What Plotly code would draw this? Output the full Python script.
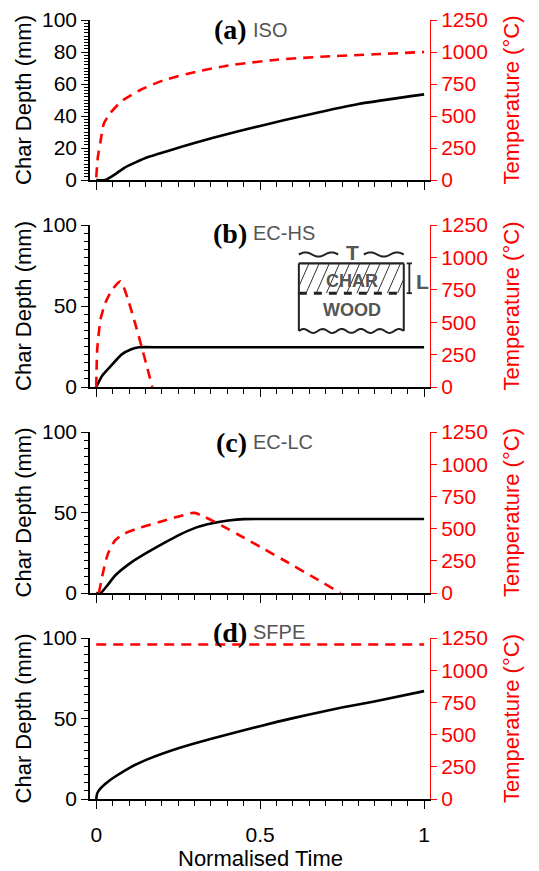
import numpy as np
import plotly.graph_objects as go
from plotly.subplots import make_subplots

# ---------------- data ----------------
iso_t_time = [0, 0.005, 0.013, 0.023, 0.042, 0.077, 0.136, 0.206, 0.304, 0.403, 0.551, 0.70, 0.848, 1.0]
iso_temp = [20, 180, 300, 440, 520, 615, 705, 780, 845, 895, 940, 965, 982, 1000]
iso_c_time = [0, 0.028, 0.057, 0.087, 0.156, 0.255, 0.354, 0.5, 0.65, 0.8, 1.0]
iso_char = [0, 0, 3.5, 7.8, 14.2, 20.5, 26.3, 33.8, 41, 47.5, 53.5]

echs_t_time = [0, 0.003, 0.013, 0.028, 0.047, 0.074, 0.171]
echs_temp = [0, 290, 520, 650, 745, 815, 0]
echs_c_time = [0, 0.018, 0.047, 0.077, 0.107, 0.131, 0.2, 1.0]
echs_char = [0, 7, 13.5, 20, 23.3, 24.5, 24.5, 24.5]

eclc_t_time = [0.008, 0.02, 0.03, 0.04, 0.057, 0.082, 0.136, 0.206, 0.26, 0.3, 0.745]
eclc_temp = [0, 150, 260, 330, 406, 457, 509, 561, 600, 622, 0]
eclc_c_time = [0, 0.014, 0.033, 0.057, 0.107, 0.156, 0.206, 0.255, 0.304, 0.354, 0.403, 0.45, 0.52, 1.0]
eclc_char = [0, 0, 4.5, 10.7, 19, 25.2, 31, 36.3, 40.6, 43.3, 45, 45.9, 46, 46]

sfpe_t_time = [0, 1]
sfpe_temp = [1200, 1200]
sfpe_c_time = [0, 0.003, 0.013, 0.033, 0.057, 0.107, 0.156, 0.255, 0.354, 0.453, 0.551, 0.65, 0.749, 0.848, 1.0]
sfpe_char = [0, 3.5, 6.6, 10.3, 13.8, 20, 24.6, 31.8, 37.6, 42.8, 47.9, 52.5, 56.8, 60.6, 67]

panel_letters = ["(a)", "(b)", "(c)", "(d)"]
panel_names = ["ISO", "EC-HS", "EC-LC", "SFPE"]
x_ticks = [0, 0.5, 1]
x_ticktext = ["0", "0.5", "1"]
temp_ticks = [0, 250, 500, 750, 1000, 1250]

panels = [
    (iso_c_time, iso_char, iso_t_time, iso_temp, [0, 20, 40, 60, 80, 100], 2),
    (echs_c_time, echs_char, echs_t_time, echs_temp, [0, 50, 100], 5),
    (eclc_c_time, eclc_char, eclc_t_time, eclc_temp, [0, 50, 100], 5),
    (sfpe_c_time, sfpe_char, sfpe_t_time, sfpe_temp, [0, 50, 100], 5),
]

# ---------------- figure ----------------
# the page body adds an 8px offset, so figure coordinates are shifted by -8
OFF = 8
W, H = 539, 871
ML, MT = 90 - OFF, 20 - OFF
MR = W - (430 - OFF)
MB = H - (799 - OFF)
PW = W - ML - MR
PH = H - MT - MB
panel_px = [(20, 180), (225, 387), (432, 593), (638, 799)]
title_y_px = [30, 233, 442, 632]

fig = make_subplots(rows=4, cols=1, specs=[[{"secondary_y": True}]] * 4)

FONT = "Liberation Sans, Arial, sans-serif"
RED = "#ff0000"

def py2paper(py):
    return (H - MB - (py - OFF)) / PH

def px2paper(px):
    return (px - OFF - ML) / PW

for i, (ct, cd, tt, td, yt, ymin) in enumerate(panels):
    r = i + 1
    fig.add_trace(go.Scatter(x=tt, y=td, mode="lines",
                             line=dict(color=RED, width=2.6, dash="10px,7px", shape="spline", smoothing=0.5),
                             showlegend=False, hoverinfo="skip"),
                  row=r, col=1, secondary_y=True)
    fig.add_trace(go.Scatter(x=ct, y=cd, mode="lines",
                             line=dict(color="black", width=2.6, shape="spline", smoothing=0.5),
                             showlegend=False, hoverinfo="skip"),
                  row=r, col=1, secondary_y=False)
    top, bot = panel_px[i]
    dom = [py2paper(bot), py2paper(top)]
    fig.update_yaxes(row=r, col=1, secondary_y=False, domain=dom, range=[0, 100], automargin=False,
                     tickvals=yt, ticks="outside", ticklen=7, tickwidth=1.3, tickcolor="black",
                     showline=True, linecolor="black", linewidth=1.5, showgrid=False, zeroline=False,
                     minor=dict(dtick=ymin, ticks="outside", ticklen=4, tickwidth=1, tickcolor="black", showgrid=False),
                     tickfont=dict(family=FONT, size=21, color="black"),
                     title=dict(text="Char Depth (mm)", font=dict(family=FONT, size=22, color="black"), standoff=4))
    fig.update_yaxes(row=r, col=1, secondary_y=True, range=[0, 1250], automargin=False,
                     tickvals=temp_ticks, ticks="outside", ticklen=6, tickwidth=1, tickcolor=RED,
                     showline=True, linecolor=RED, linewidth=1, showgrid=False, zeroline=False,
                     tickfont=dict(family=FONT, size=21, color=RED),
                     title=dict(text="Temperature (°C)", font=dict(family=FONT, size=22, color=RED), standoff=16))
    fig.update_xaxes(row=r, col=1, domain=[0, 1], range=[-0.019, 1.018], tickvals=x_ticks, ticktext=x_ticktext,
                     automargin=False,
                     ticks="outside", ticklen=8, tickwidth=1.3, tickcolor="black",
                     showline=True, linecolor="black", linewidth=1.5, showgrid=False, zeroline=False,
                     minor=dict(dtick=0.05, ticks="outside", ticklen=5, tickwidth=1, tickcolor="black", showgrid=False),
                     showticklabels=(r == 4), ticklabelstandoff=8,
                     tickfont=dict(family=FONT, size=21, color="black"))
    # panel titles
    ycen = py2paper(title_y_px[i])
    fig.add_annotation(xref="paper", yref="paper", x=px2paper(249), y=ycen,
                       text="<b>" + panel_letters[i] + "</b>", showarrow=False, xanchor="right", yanchor="middle",
                       font=dict(family="Liberation Serif, Times New Roman, serif", size=28, color="black"))
    fig.add_annotation(xref="paper", yref="paper", x=px2paper(251), y=ycen,
                       text=panel_names[i], showarrow=False, xanchor="left", yanchor="middle",
                       font=dict(family=FONT, size=20, color="#555555"))

# x-axis title placed as text under the bottom panel
fig.add_annotation(xref="paper", yref="paper", x=px2paper(260), y=py2paper(858),
                   text="Normalised Time", showarrow=False, xanchor="center", yanchor="middle",
                   font=dict(family=FONT, size=22, color="black"))

# ---------------- inset schematic in panel (b) ----------------
XR, YR = "x2", "y3"
xl, xr = 0.618, 0.938
y_top, y_mid, y_bot = 76.3, 57.9, 34.6
y_wave_top = 81.8
shapes = []

def wave_path(x0, x1, yc, amp, periods, n=80):
    xs = np.linspace(x0, x1, n)
    ys = yc + amp * np.sin(np.linspace(0, 2 * np.pi * periods, n))
    return "M " + " L ".join(f"{a:.4f},{b:.3f}" for a, b in zip(xs, ys))

line_k = dict(color="#222222", width=2)
shapes.append(dict(type="path", xref=XR, yref=YR, path=wave_path(xl, 0.738, y_wave_top, 1.3, 1.5), line=line_k))
shapes.append(dict(type="path", xref=XR, yref=YR, path=wave_path(0.816, xr, y_wave_top, 1.3, 1.5), line=line_k))
shapes.append(dict(type="path", xref=XR, yref=YR, path=wave_path(xl, xr, y_bot, 1.2, 5.5), line=line_k))
# box edges
shapes.append(dict(type="line", xref=XR, yref=YR, x0=xl, x1=xr, y0=y_top, y1=y_top, line=dict(color="#222222", width=2.4)))
shapes.append(dict(type="line", xref=XR, yref=YR, x0=xl, x1=xl, y0=y_top, y1=y_bot, line=dict(color="#222222", width=2)))
shapes.append(dict(type="line", xref=XR, yref=YR, x0=xr, x1=xr, y0=y_top, y1=y_bot, line=dict(color="#222222", width=2)))
shapes.append(dict(type="line", xref=XR, yref=YR, x0=xl, x1=xr, y0=y_mid, y1=y_mid,
                   line=dict(color="#222222", width=3, dash="8px,7px")))
# hatching
sx, sp = 0.04, 0.031
segs = []
x0 = xl - sx
while x0 < xr:
    tmin = max(0.0, (xl - x0) / sx)
    tmax = min(1.0, (xr - x0) / sx)
    if tmin < tmax:
        ax, ay = x0 + sx * tmin, y_mid + (y_top - y_mid) * tmin
        bx, by = x0 + sx * tmax, y_mid + (y_top - y_mid) * tmax
        segs.append(f"M {ax:.4f},{ay:.3f} L {bx:.4f},{by:.3f}")
    x0 += sp
shapes.append(dict(type="path", xref=XR, yref=YR, path=" ".join(segs), line=dict(color="#333333", width=1)))
# L bracket
xb = 0.955
shapes.append(dict(type="line", xref=XR, yref=YR, x0=xb, x1=xb, y0=y_top, y1=y_mid, line=dict(color="#222222", width=1.8)))
shapes.append(dict(type="line", xref=XR, yref=YR, x0=xb - 0.008, x1=xb + 0.008, y0=y_top, y1=y_top, line=dict(color="#222222", width=1.8)))
shapes.append(dict(type="line", xref=XR, yref=YR, x0=xb - 0.008, x1=xb + 0.008, y0=y_mid, y1=y_mid, line=dict(color="#222222", width=1.8)))

for s in shapes:
    s.setdefault("layer", "above")
fig.update_layout(shapes=shapes)

GREY = "#555555"
for txt, xx, yy, sz in [("T", 0.782, 83.2, 21), ("CHAR", 0.78, 65.5, 18), ("WOOD", 0.78, 47.8, 18), ("L", 0.995, 65, 21)]:
    fig.add_annotation(xref=XR, yref=YR, x=xx, y=yy, text="<b>" + txt + "</b>", showarrow=False,
                       xanchor="center", yanchor="middle", font=dict(family=FONT, size=sz, color=GREY))

fig.update_layout(width=W, height=H, margin=dict(l=ML, r=MR, t=MT, b=MB),
                  paper_bgcolor="white", plot_bgcolor="white", showlegend=False)

fig.write_html("out.html")
